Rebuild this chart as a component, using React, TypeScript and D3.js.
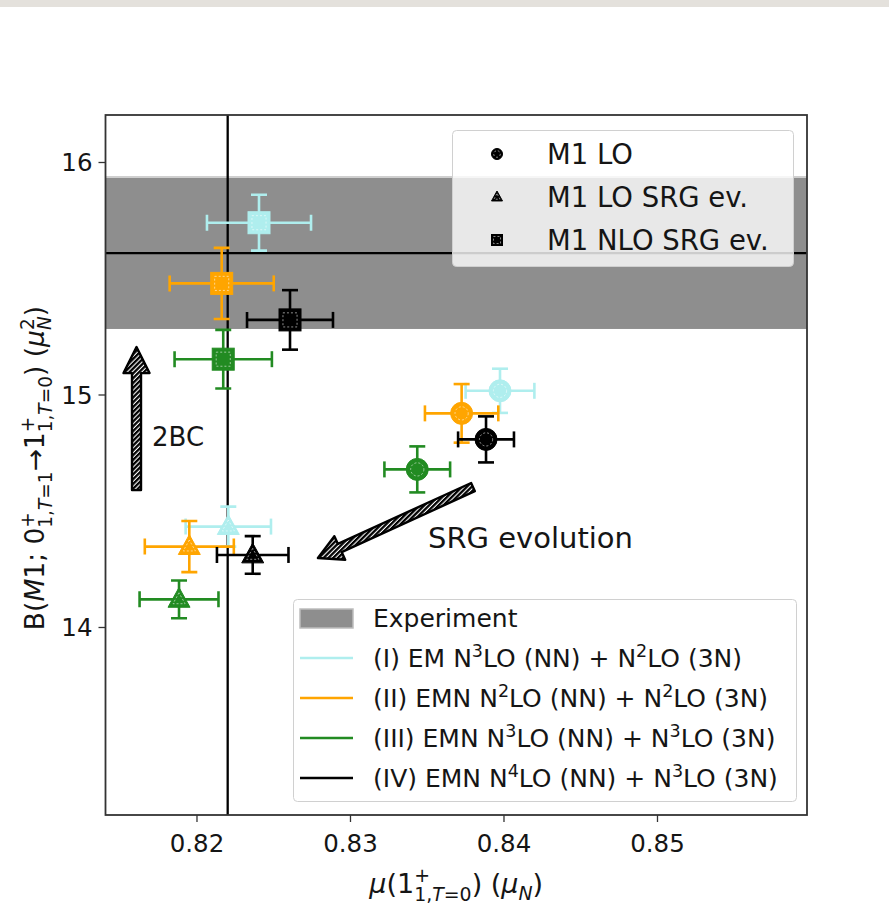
import React from 'react';
import * as d3 from 'd3';

const W = 889;
const H = 907;

// axis ticks
const xTicks = [0.82, 0.83, 0.84, 0.85];
const yTicks = [14, 15, 16];

// experiment
const expB = 15.61;
const expBLow = 15.284;
const expBHigh = 15.938;
const expMu = 0.822;

// models
const modelLabels = [
  '(I) EM N^3LO (NN) + N^2LO (3N)',
  '(II) EMN N^2LO (NN) + N^2LO (3N)',
  '(III) EMN N^3LO (NN) + N^3LO (3N)',
  '(IV) EMN N^4LO (NN) + N^3LO (3N)',
];
const modelColors = ['#afeeee', '#ffa500', '#228b22', '#000000'];

// M1 LO (circles)
const loMu = [0.83974, 0.83724, 0.83435, 0.83883];
const loMuErr = [0.00224, 0.00239, 0.00214, 0.00182];
const loB = [15.018, 14.921, 14.68, 14.809];
const loBErr = [0.095, 0.126, 0.099, 0.099];

// M1 LO SRG ev. (triangles)
const srgMu = [0.82204, 0.8195, 0.81883, 0.82363];
const srgMuErr = [0.00278, 0.0029, 0.00257, 0.00233];
const srgB = [14.434, 14.348, 14.121, 14.312];
const srgBErr = [0.086, 0.11, 0.081, 0.081];

// M1 NLO SRG ev. (squares)
const nloMu = [0.82404, 0.82161, 0.82171, 0.82606];
const nloMuErr = [0.00339, 0.00339, 0.00317, 0.0028];
const nloB = [15.741, 15.48, 15.154, 15.323];
const nloBErr = [0.12, 0.153, 0.126, 0.128];

const markerLegend = ['M1 LO', 'M1 LO SRG ev.', 'M1 NLO SRG ev.'];
const markerShapes = ['circle', 'triangle', 'square'];

// annotation arrows (data coords)
const arrow2BC = { x0: 0.81606, y0: 14.591, x1: 0.81606, y1: 15.206 };
const arrowSRG = { x0: 0.83798, y0: 14.604, x1: 0.82788, y1: 14.299 };

const FONT = 'DejaVu Sans, sans-serif';
const INK = '#151515';

function parseSup(s: string) {
  const parts: { t: string; sup: boolean }[] = [];
  let buf = '';
  for (let i = 0; i < s.length; i++) {
    if (s[i] === '^' && i + 1 < s.length) {
      if (buf) parts.push({ t: buf, sup: false });
      buf = '';
      parts.push({ t: s[i + 1], sup: true });
      i++;
    } else buf += s[i];
  }
  if (buf) parts.push({ t: buf, sup: false });
  return parts;
}

function SupText({ x, y, text, size }: { x: number; y: number; text: string; size: number }) {
  const parts = parseSup(text);
  let prevSup = false;
  return (
    <text x={x} y={y} fontSize={size} fontFamily={FONT} fill={INK}>
      {parts.map((p, i) => {
        let dy = 0;
        if (p.sup && !prevSup) dy = -0.4 * size;
        if (!p.sup && prevSup) dy = 0.4 * size;
        prevSup = p.sup;
        return (
          <tspan key={i} dy={dy} fontSize={p.sup ? size * 0.7 : size}>
            {p.t}
          </tspan>
        );
      })}
    </text>
  );
}

function Marker({ shape, cx, cy, color, s }: { shape: string; cx: number; cy: number; color: string; s: number }) {
  const stroke = color;
  const inner = 'rgba(255,255,255,0.55)';
  if (shape === 'circle') {
    return (
      <g>
        <circle cx={cx} cy={cy} r={s / 2} fill={color} stroke={stroke} strokeWidth={1} />
        <circle cx={cx} cy={cy} r={s * 0.3} fill="none" stroke={inner} strokeWidth={1} strokeDasharray="2,2" />
      </g>
    );
  }
  if (shape === 'square') {
    return (
      <g>
        <rect x={cx - s / 2} y={cy - s / 2} width={s} height={s} fill={color} stroke={stroke} strokeWidth={1} />
        <rect x={cx - s * 0.32} y={cy - s * 0.32} width={s * 0.64} height={s * 0.64} fill="none" stroke={inner} strokeWidth={1} strokeDasharray="2,2" />
      </g>
    );
  }
  const h = s * 0.9;
  const pts = [[cx, cy - h * 0.6], [cx - s / 2, cy + h * 0.4], [cx + s / 2, cy + h * 0.4]];
  const ipts = pts.map(([px, py]) => [cx + (px - cx) * 0.55, cy + (py - cy) * 0.55]);
  return (
    <g>
      <polygon points={pts.map((p) => p.join(',')).join(' ')} fill={color} stroke={stroke} strokeWidth={1} />
      <polygon points={ipts.map((p) => p.join(',')).join(' ')} fill="none" stroke={inner} strokeWidth={1} strokeDasharray="2,2" />
    </g>
  );
}

function ErrPoint({ px, py, ex0, ex1, ey0, ey1, color, shape }: any) {
  const cap = 8;
  const sw = 2.6;
  return (
    <g>
      <line x1={ex0} x2={ex1} y1={py} y2={py} stroke={color} strokeWidth={sw} />
      <line x1={px} x2={px} y1={ey0} y2={ey1} stroke={color} strokeWidth={sw} />
      <line x1={ex0} x2={ex0} y1={py - cap} y2={py + cap} stroke={color} strokeWidth={sw} />
      <line x1={ex1} x2={ex1} y1={py - cap} y2={py + cap} stroke={color} strokeWidth={sw} />
      <line x1={px - cap} x2={px + cap} y1={ey0} y2={ey0} stroke={color} strokeWidth={sw} />
      <line x1={px - cap} x2={px + cap} y1={ey1} y2={ey1} stroke={color} strokeWidth={sw} />
      <Marker shape={shape} cx={px} cy={py} color={color} s={22} />
    </g>
  );
}

function arrowPath(x0: number, y0: number, x1: number, y1: number, shaftW: number, headW: number, headL: number) {
  const dx = x1 - x0;
  const dy = y1 - y0;
  const len = Math.hypot(dx, dy);
  const ux = dx / len;
  const uy = dy / len;
  const nx = -uy;
  const ny = ux;
  const bx = x1 - ux * headL;
  const by = y1 - uy * headL;
  const p = [
    [x0 + nx * shaftW / 2, y0 + ny * shaftW / 2],
    [bx + nx * shaftW / 2, by + ny * shaftW / 2],
    [bx + nx * headW / 2, by + ny * headW / 2],
    [x1, y1],
    [bx - nx * headW / 2, by - ny * headW / 2],
    [bx - nx * shaftW / 2, by - ny * shaftW / 2],
    [x0 - nx * shaftW / 2, y0 - ny * shaftW / 2],
  ];
  return 'M' + p.map((q) => q.join(',')).join('L') + 'Z';
}

export default function App() {
  const left = 105.5;
  const right = 807;
  const top = 115;
  const bottom = 815;
  const x = d3.scaleLinear().domain([0.81404, 0.85974]).range([left, right]);
  const y = d3.scaleLinear().domain([16.2043, 13.1935]).range([top, bottom]);

  const series = [
    { shape: 'circle', mu: loMu, muErr: loMuErr, b: loB, bErr: loBErr },
    { shape: 'triangle', mu: srgMu, muErr: srgMuErr, b: srgB, bErr: srgBErr },
    { shape: 'square', mu: nloMu, muErr: nloMuErr, b: nloB, bErr: nloBErr },
  ];

  const tickFs = 24.5;
  const xlab = 27;
  const xsub = xlab * 0.7;
  const ylab = 26.5;
  const ysub = ylab * 0.7;

  return (
    <svg width={W} height={H} style={{ position: 'absolute', left: 0, top: 0, background: '#fff' }} fontFamily={FONT}>
      <defs>
        <pattern id="hatch" patternUnits="userSpaceOnUse" width="3.4" height="3.4" patternTransform="rotate(45)">
          <rect width="3.4" height="3.4" fill="#fff" />
          <rect width="2.3" height="3.4" fill="#000" />
        </pattern>
        <clipPath id="plotclip">
          <rect x={left} y={top} width={right - left} height={bottom - top} />
        </clipPath>
      </defs>
      <rect x={0} y={0} width={W} height={7} fill="#e4e1dc" />

      <g clipPath="url(#plotclip)">
        <rect x={left} y={y(expBHigh)} width={right - left} height={y(expBLow) - y(expBHigh)} fill="#8e8e8e" />
        <line x1={left} x2={right} y1={y(expBHigh)} y2={y(expBHigh)} stroke="#cfcfcf" strokeWidth={2} />
        <line x1={left} x2={right} y1={y(expB)} y2={y(expB)} stroke="#000" strokeWidth={2.3} />
        <line x1={x(expMu)} x2={x(expMu)} y1={top} y2={bottom} stroke="#000" strokeWidth={2.3} />

        {modelColors.map((c, i) =>
          series.map((s, j) => (
            <ErrPoint
              key={i + '-' + j}
              px={x(s.mu[i])}
              py={y(s.b[i])}
              ex0={x(s.mu[i] - s.muErr[i])}
              ex1={x(s.mu[i] + s.muErr[i])}
              ey0={y(s.b[i] + s.bErr[i])}
              ey1={y(s.b[i] - s.bErr[i])}
              color={c}
              shape={s.shape}
            />
          ))
        )}

        <path
          d={arrowPath(x(arrow2BC.x0), y(arrow2BC.y0), x(arrow2BC.x1), y(arrow2BC.y1), 9, 26, 26)}
          fill="url(#hatch)"
          stroke="#000"
          strokeWidth={2.4}
          strokeLinejoin="round"
        />
        <path
          d={arrowPath(x(arrowSRG.x0), y(arrowSRG.y0), x(arrowSRG.x1), y(arrowSRG.y1), 9, 26, 24)}
          fill="url(#hatch)"
          stroke="#000"
          strokeWidth={2.4}
          strokeLinejoin="round"
        />
      </g>
      <text x={152} y={446} fontSize={26} fill={INK}>2BC</text>
      <text x={428} y={548} fontSize={29} fill={INK}>SRG evolution</text>

      {/* spines */}
      <rect x={left} y={top} width={right - left} height={bottom - top} fill="none" stroke="#333" strokeWidth={1.8} />

      {/* x ticks */}
      {xTicks.map((t) => (
        <g key={t}>
          <line x1={x(t)} x2={x(t)} y1={bottom} y2={bottom + 7} stroke="#333" strokeWidth={1.3} />
          <text x={x(t)} y={bottom + 37} fontSize={tickFs} textAnchor="middle" fill={INK}>
            {d3.format('.2f')(t)}
          </text>
        </g>
      ))}
      {yTicks.map((t) => (
        <g key={t}>
          <line x1={left - 7} x2={left} y1={y(t)} y2={y(t)} stroke="#333" strokeWidth={1.3} />
          <text x={left - 13} y={y(t) + 9} fontSize={tickFs} textAnchor="end" fill={INK}>
            {t}
          </text>
        </g>
      ))}

      {/* x label */}
      <text x={(left + right) / 2} y={893} fontSize={xlab} textAnchor="middle" fill={INK}>
        <tspan fontStyle="italic">μ</tspan>
        <tspan>(1</tspan>
        <tspan fontSize={xsub} dy={-11}>+</tspan>
        <tspan fontSize={xsub} dx={-xsub * 0.84} dy={19}>1,</tspan>
        <tspan fontSize={xsub} fontStyle="italic">T</tspan>
        <tspan fontSize={xsub}>=0</tspan>
        <tspan dy={-8}>) (</tspan>
        <tspan fontStyle="italic">μ</tspan>
        <tspan fontSize={xsub} fontStyle="italic" dy={7}>N</tspan>
        <tspan dy={-7}>)</tspan>
      </text>

      {/* y label */}
      <text transform={`translate(44,${(top + bottom) / 2 + 3}) rotate(-90)`} fontSize={ylab} textAnchor="middle" fill={INK}>
        <tspan>B(</tspan>
        <tspan fontStyle="italic">M</tspan>
        <tspan>1; 0</tspan>
        <tspan fontSize={ysub} dy={-10}>+</tspan>
        <tspan fontSize={ysub} dx={-ysub * 0.84} dy={18}>1,</tspan>
        <tspan fontSize={ysub} fontStyle="italic">T</tspan>
        <tspan fontSize={ysub}>=1</tspan>
        <tspan dy={-8}>→1</tspan>
        <tspan fontSize={ysub} dy={-10}>+</tspan>
        <tspan fontSize={ysub} dx={-ysub * 0.84} dy={18}>1,</tspan>
        <tspan fontSize={ysub} fontStyle="italic">T</tspan>
        <tspan fontSize={ysub}>=0</tspan>
        <tspan dy={-8}>) (</tspan>
        <tspan fontStyle="italic">μ</tspan>
        <tspan fontSize={ysub} dy={-10}>2</tspan>
        <tspan fontSize={ysub} fontStyle="italic" dx={-ysub * 0.64} dy={17}>N</tspan>
        <tspan dy={-7}>)</tspan>
      </text>

      {/* marker legend */}
      <g>
        <rect x={452.5} y={130.5} width={341} height={136} rx={4} fill="rgba(255,255,255,0.8)" stroke="#d0d0d0" strokeWidth={1} />
        {markerLegend.map((l, i) => (
          <g key={l}>
            <Marker shape={markerShapes[i]} cx={497} cy={154 + i * 43} color="#000000" s={11} />
            <text x={547} y={154 + i * 43 + 10} fontSize={27.5} fill={INK}>{l}</text>
          </g>
        ))}
      </g>

      {/* model legend */}
      <g>
        <rect x={293.5} y={599.5} width={503} height={202} rx={4} fill="rgba(255,255,255,0.8)" stroke="#d0d0d0" strokeWidth={1} />
        <rect x={300} y={609} width={53} height={19} fill="#8e8e8e" stroke="#bdbdbd" strokeWidth={1.5} />
        <text x={373} y={627} fontSize={25} fill={INK}>Experiment</text>
        {modelLabels.map((l, i) => (
          <g key={l}>
            <line x1={300} x2={353} y1={658 + i * 40} y2={658 + i * 40} stroke={modelColors[i]} strokeWidth={2.6} />
            <SupText x={373} y={658 + i * 40 + 9} text={l} size={25} />
          </g>
        ))}
      </g>
    </svg>
  );
}
